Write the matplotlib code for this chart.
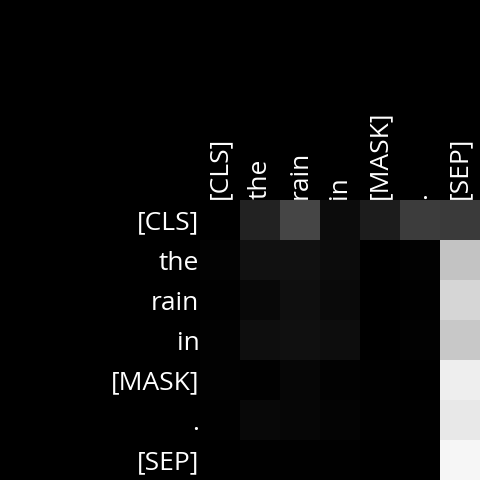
import numpy as np
import matplotlib
matplotlib.use("Agg")
import matplotlib.pyplot as plt

tokens = ["[CLS]", "the", "rain", "in", "[MASK]", ".", "[SEP]"]
row0 = [0x00, 0x22, 0x45, 0x0c, 0x1c, 0x3c, 0x3a]
row1 = [0x03, 0x11, 0x11, 0x0c, 0x00, 0x02, 0xc4]
row2 = [0x01, 0x08, 0x0f, 0x0a, 0x00, 0x01, 0xd6]
row3 = [0x02, 0x0e, 0x10, 0x0d, 0x00, 0x02, 0xc8]
row4 = [0x02, 0x01, 0x06, 0x02, 0x01, 0x00, 0xee]
row5 = [0x01, 0x08, 0x06, 0x04, 0x01, 0x01, 0xe8]
row6 = [0x00, 0x01, 0x01, 0x01, 0x00, 0x00, 0xf6]
attn = np.array([row0, row1, row2, row3, row4, row5, row6]) / 255.0

plt.rcParams['font.family'] = ['Open Sans', 'DejaVu Sans']
fig = plt.figure(figsize=(4.8, 4.8), dpi=100, facecolor='black')
ax = fig.add_axes([200/480, 0, 280/480, 280/480])
ax.imshow(attn, cmap='gray', vmin=0, vmax=1, aspect='auto', interpolation='nearest')
ax.set_xticks(range(len(tokens)))
ax.set_yticks(range(len(tokens)))
ax.set_xticklabels(tokens, rotation=90, color='white', fontsize=19)
ax.set_yticklabels(tokens, color='white', fontsize=19)
ax.xaxis.tick_top()
ax.tick_params(length=0, pad=0.5)
for s in ax.spines.values():
    s.set_visible(False)
fig.savefig("out.png", dpi=100, facecolor='black')
